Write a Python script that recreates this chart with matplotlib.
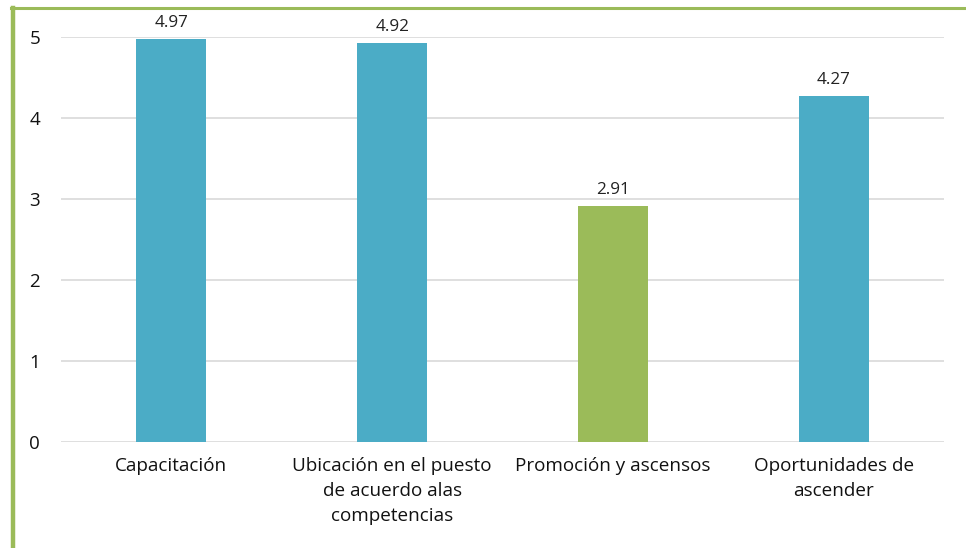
import matplotlib
matplotlib.use("Agg")
import matplotlib.pyplot as plt
from matplotlib.lines import Line2D

categories = ["Capacitación", "Ubicación en el puesto\nde acuerdo alas\ncompetencias",
              "Promoción y ascensos", "Oportunidades de\nascender"]
values = [4.97, 4.92, 2.91, 4.27]
colors = ["#4BACC6", "#4BACC6", "#9BBB59", "#4BACC6"]
yticks = [0, 1, 2, 3, 4, 5]

plt.rcParams['font.family'] = ['Open Sans', 'DejaVu Sans']

W, H = 966, 548
fig = plt.figure(figsize=(W/100, H/100), dpi=100)
ax = fig.add_axes([61/W, 1-442/H, (944-61)/W, (442-37)/H])

x = range(len(categories))
bars = ax.bar(x, values, width=0.317, color=colors, zorder=3)
for xi, v in zip(x, values):
    ax.text(xi, v + 0.1, f"{v:.2f}", ha="center", va="bottom", fontsize=12.3, color="#222222", clip_on=False)

ax.set_xlim(-0.5, len(categories)-0.5)
ax.set_ylim(0, 5)
ax.set_yticks(yticks)
ax.set_yticklabels([str(t) for t in yticks], fontsize=13.5, color="#111111")
ax.set_xticks(list(x))
ax.set_xticklabels(categories, fontsize=13.6, color="#111111", linespacing=1.5, va="top")
ax.tick_params(axis="both", length=0)
ax.tick_params(axis="y", pad=15)
ax.tick_params(axis="x", pad=11)
ax.grid(axis="y", color="#D9D9D9", linewidth=1.2, zorder=0)
for s in ax.spines.values():
    s.set_visible(False)

# green frame
fig.add_artist(Line2D([13/W, 13/W], [0, 1-8/H], color="#9BBB59", linewidth=3.2, transform=fig.transFigure))
fig.add_artist(Line2D([11/W, 1], [1-8/H, 1-8/H], color="#9BBB59", linewidth=2.2, transform=fig.transFigure))

fig.savefig("out.png", dpi=100)
